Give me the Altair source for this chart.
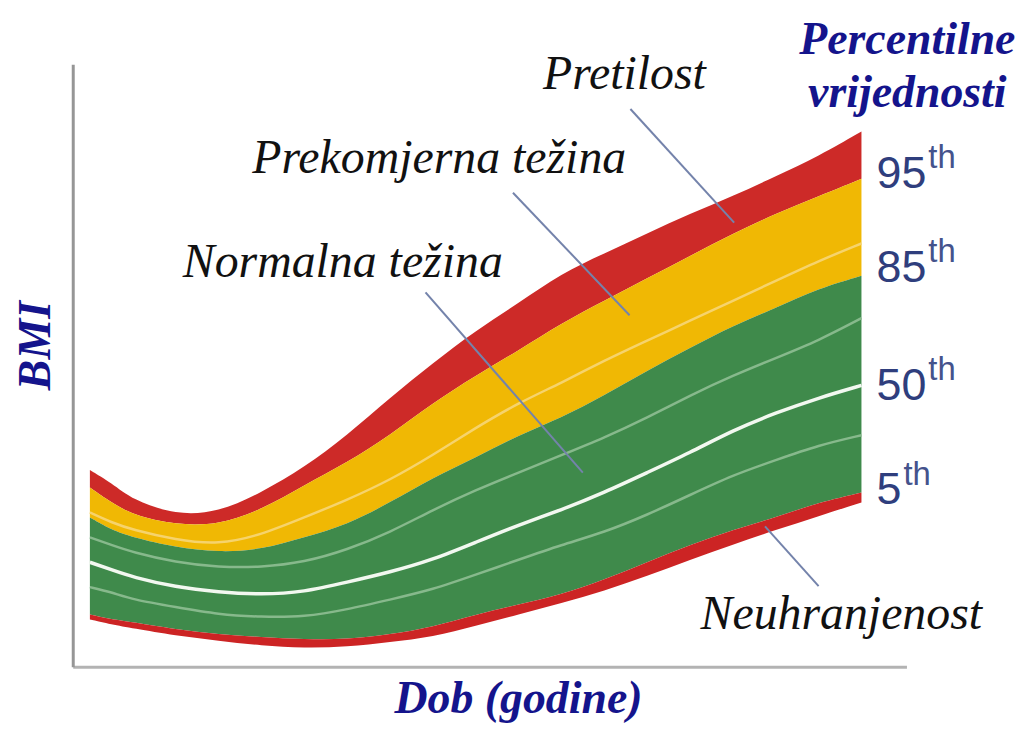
import altair as alt
import pandas as pd

# Age (years) sample points
age = [2, 2.5, 3, 4, 5, 6, 7, 8, 9, 10, 11, 12, 13, 14, 15, 16, 17, 18, 19, 20]

# BMI curves
bmi_top = [19.9, 19.4, 18.7, 18.1, 18.2, 19.0, 20.0, 21.3, 22.8, 24.2, 25.5, 26.6, 27.8, 28.6, 29.4, 30.2, 30.9, 31.7, 32.5, 33.5]
p95 = [19.2, 18.6, 18.1, 17.7, 17.7, 18.3, 19.3, 20.2, 21.3, 22.6, 23.7, 24.7, 25.8, 26.7, 27.6, 28.5, 29.4, 30.2, 30.9, 31.6]
p90 = [18.2, 17.8, 17.5, 17.1, 16.9, 17.3, 18.0, 18.7, 19.5, 20.5, 21.6, 22.6, 23.4, 24.3, 25.1, 25.9, 26.7, 27.5, 28.3, 29.0]
p85 = [18.0, 17.5, 17.2, 16.8, 16.6, 16.7, 17.2, 17.7, 18.6, 19.6, 20.4, 21.3, 22.0, 22.9, 23.9, 24.8, 25.7, 26.4, 27.2, 27.7]
p75 = [17.2, 16.9, 16.6, 16.2, 16.0, 16.0, 16.2, 16.7, 17.4, 18.3, 19.1, 19.8, 20.5, 21.2, 22.0, 22.9, 23.7, 24.4, 25.1, 26.0]
p50 = [16.2, 15.9, 15.6, 15.2, 15.0, 14.9, 15.0, 15.4, 15.8, 16.3, 17.0, 17.7, 18.3, 19.0, 19.8, 20.6, 21.5, 22.2, 22.8, 23.3]
p25 = [15.2, 15.0, 14.7, 14.4, 14.1, 14.0, 14.0, 14.3, 14.7, 15.1, 15.7, 16.3, 16.9, 17.4, 18.1, 18.9, 19.7, 20.3, 20.9, 21.3]
p5 = [14.1, 13.9, 13.8, 13.5, 13.3, 13.2, 13.1, 13.1, 13.3, 13.6, 14.1, 14.5, 14.9, 15.5, 16.2, 16.9, 17.5, 18.0, 18.6, 19.0]
bmi_min = [13.9, 13.7, 13.55, 13.25, 13.05, 12.85, 12.75, 12.8, 13.0, 13.2, 13.65, 14.1, 14.55, 15.05, 15.65, 16.3, 16.9, 17.5, 18.05, 18.6]

# Category annotations
cat_labels = ["Pretilost", "Prekomjerna težina", "Normalna težina", "Neuhranjenost"]
cat_age = [14.47, 10.15, 7.9, 19.53]
cat_bmi = [35.2, 31.84, 27.64, 13.52]
lead_age = [14.61, 11.87, 9.83, 17.75]
lead_bmi = [34.4, 31.04, 27.04, 17.64]
lead_age2 = [17.03, 14.59, 13.5, 19.0]
lead_bmi2 = [29.84, 26.12, 19.8, 15.24]

# Percentile labels on the right
pct_num = ["95", "85", "50", "5"]
pct_bmi = [31.24, 27.44, 22.72, 18.52]
pct_th_age = [21.56, 21.56, 21.56, 20.98]
pct_age = 20.35

head_lines = ["Percentilne", "vrijednosti"]
head_bmi = [36.6, 34.5]
head_age = 21.07

df = pd.DataFrame({"age": age, "top": bmi_top, "p95": p95, "p90": p90, "p85": p85,
                   "p75": p75, "p50": p50, "p25": p25, "p5": p5, "min": bmi_min})
cats = pd.DataFrame({"label": cat_labels, "age": cat_age, "bmi": cat_bmi,
                     "a1": lead_age, "b1": lead_bmi, "a2": lead_age2, "b2": lead_bmi2})
pct = pd.DataFrame({"num": pct_num, "bmi": pct_bmi, "tha": pct_th_age, "age": [pct_age] * 4})
head = pd.DataFrame({"t": head_lines, "bmi": head_bmi, "age": [head_age] * 2})

xs = alt.Scale(domain=[1.6, 21.05], nice=False, zero=False)
ys = alt.Scale(domain=[12, 36.2], nice=False, zero=False)
SERIF = "Liberation Serif"
NAVY = "#14148c"

X_AX = alt.Axis(
    title="Dob (godine)", labels=False, ticks=False, grid=False,
    domainColor="#b3b3b3", domainWidth=3,
    titleFont=SERIF, titleFontSize=46, titleFontStyle="italic", titleFontWeight="bold",
    titleColor=NAVY, titleX=447, titleY=46, titleBaseline="alphabetic", titleAlign="center")
Y_AX = alt.Axis(
    title="BMI", labels=False, ticks=False, grid=False,
    domainColor="#969696", domainWidth=3,
    titleFont=SERIF, titleFontSize=46, titleFontStyle="italic", titleFontWeight="bold",
    titleColor=NAVY, titleX=-37, titleY=282, titleAngle=-90,
    titleBaseline="middle", titleAlign="center")


def X(field):
    return alt.X(field, scale=xs, axis=X_AX)


def Y(field):
    return alt.Y(field, scale=ys, axis=Y_AX)


base = alt.Chart(df)


def area(y, y2, color):
    return base.mark_area(color=color, interpolate="basis").encode(
        x=X("age:Q"), y=Y(f"{y}:Q"), y2=f"{y2}:Q",
    )


red_top = area("top", "p95", "#cd2a28")
yellow = area("p95", "p85", "#f0b804")
green = area("p85", "p5", "#3f8a4b")
red_bot = area("p5", "min", "#cc2424")


def line(y, color, w):
    return base.mark_line(color=color, strokeWidth=w, interpolate="basis").encode(
        x=X("age:Q"), y=Y(f"{y}:Q"),
    )


l90 = line("p90", "#f6d36c", 2.5)
l75 = line("p75", "#87b98c", 2.5)
l25 = line("p25", "#87b98c", 2.5)
l50 = line("p50", "#f2f8f0", 3.5)

leaders = alt.Chart(cats).mark_rule(color="#7483ab", strokeWidth=2).encode(
    x=X("a1:Q"), y=Y("b1:Q"), x2="a2:Q", y2="b2:Q",
)
cat_text = alt.Chart(cats).mark_text(font=SERIF, fontSize=48, fontStyle="italic",
                                     color="#111111", baseline="alphabetic", align="center").encode(
    x=X("age:Q"), y=Y("bmi:Q"), text="label:N",
)
num_text = alt.Chart(pct).mark_text(font="Liberation Sans", fontSize=45, color="#2f3e7d",
                                    baseline="alphabetic", align="left").encode(
    x=X("age:Q"), y=Y("bmi:Q"), text="num:N",
)
th_text = alt.Chart(pct).mark_text(font="Liberation Sans", fontSize=33, color="#44538c",
                                   baseline="alphabetic", align="left", dy=-20).encode(
    x=X("tha:Q"), y=Y("bmi:Q"), text=alt.value("th"),
)
head_text = alt.Chart(head).mark_text(font=SERIF, fontSize=46, fontStyle="italic", fontWeight="bold",
                                      color=NAVY, baseline="alphabetic", align="center").encode(
    x=X("age:Q"), y=Y("bmi:Q"), text="t:N",
)

chart = alt.layer(
    red_top, yellow, green, red_bot, l90, l75, l25, l50,
    leaders, cat_text, num_text, th_text, head_text,
).properties(
    width=837, height=605,
    autosize=alt.AutoSizeParams(type="none"),
    padding={"left": 65, "top": 55, "right": 118, "bottom": 60},
    background="white",
).configure_view(strokeWidth=0)

chart.save("out.html", embed_options={"renderer": "svg", "actions": False})
